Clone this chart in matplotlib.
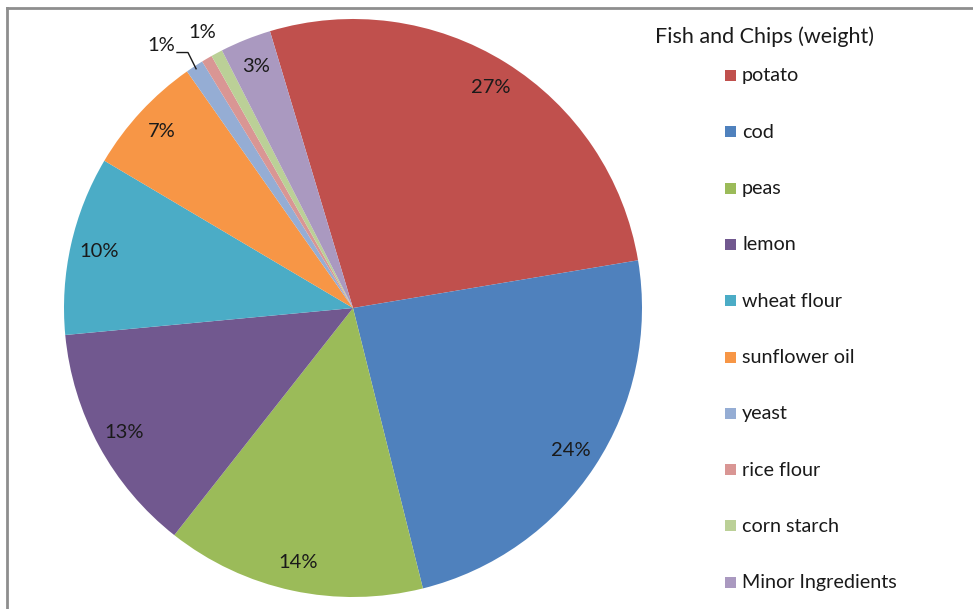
import matplotlib.pyplot as plt
from matplotlib.lines import Line2D
from matplotlib.patches import Rectangle
import numpy as np

plt.rcParams['font.family'] = ['Lato', 'DejaVu Sans']

# Ingredient shares of a fish and chips portion (by weight, %)
ingredients = ['potato', 'cod', 'peas', 'lemon', 'wheat flour', 'sunflower oil',
               'yeast', 'rice flour', 'corn starch', 'Minor Ingredients']
shares = [27.0, 23.75, 14.5, 12.9, 10.0, 6.75, 1.0, 0.6, 0.65, 2.85]
labels = ['27%', '24%', '14%', '13%', '10%', '7%', '1%', '1%', '', '3%']
colors = ['#C0504D', '#4F81BD', '#9BBB59', '#71588F', '#4BACC6', '#F79646',
          '#95ADD4', '#D99694', '#BBD097', '#AA99C0']
title = 'Fish and Chips (weight)'

W, H = 973, 609
fig = plt.figure(figsize=(W / 100, H / 100), dpi=100)


def fx(px):
    return px / W


def fy(py):
    return 1 - py / H


# outer chart frame (only top and left edges fall inside the image)
fig.add_artist(Line2D([fx(7), fx(7)], [fy(8), 0], color='#8E8E8E', lw=2))
fig.add_artist(Line2D([fx(7), 1], [fy(8), fy(8)], color='#8E8E8E', lw=2))

# pie area: centre (353, 308), radius 289 px
cx, cy, r = 353, 308, 289
ax = fig.add_axes([fx(cx - r), fy(cy + r), 2 * r / W, 2 * r / H])
wedges, _ = ax.pie(shares, colors=colors, startangle=106.7, counterclock=False,
                   radius=1.0, wedgeprops=dict(linewidth=0))
ax.set_xlim(-1, 1)
ax.set_ylim(-1, 1)
ax.set_aspect('equal')
ax.axis('off')

txt = '#1a1a1a'
# percentage labels placed inside the rim
for w, lab, name in zip(wedges, labels, ingredients):
    if not lab:
        continue
    ang = np.deg2rad((w.theta1 + w.theta2) / 2)
    if name == 'yeast':
        # label pulled outside with a leader line
        ex, ey = 0.99 * np.cos(ang), 0.99 * np.sin(ang)
        ax.plot([-0.609, -0.571, ex], [0.884, 0.884, ey],
                color=txt, lw=1, clip_on=False)
        ax.text(-0.664, 0.907, lab, ha='center', va='center', fontsize=14.5,
                color=txt)
    elif name == 'rice flour':
        ax.text(-0.522, 0.952, lab, ha='center', va='center', fontsize=14.5,
                color=txt)
    else:
        ax.text(0.9 * np.cos(ang), 0.9 * np.sin(ang), lab, ha='center',
                va='center', fontsize=14.5, color=txt)

# legend
fig.text(fx(655), fy(37), title, ha='left', va='center', fontsize=15.5,
         color=txt)
for i, (name, c) in enumerate(zip(ingredients, colors)):
    y = 76 + i * 56.3
    fig.add_artist(Rectangle((fx(725), fy(y + 5)), 11 / W, 11 / H,
                             facecolor=c, edgecolor='none'))
    fig.text(fx(742), fy(y), name, ha='left', va='center', fontsize=14.2,
             color=txt)

fig.savefig('out.png', dpi=100)
